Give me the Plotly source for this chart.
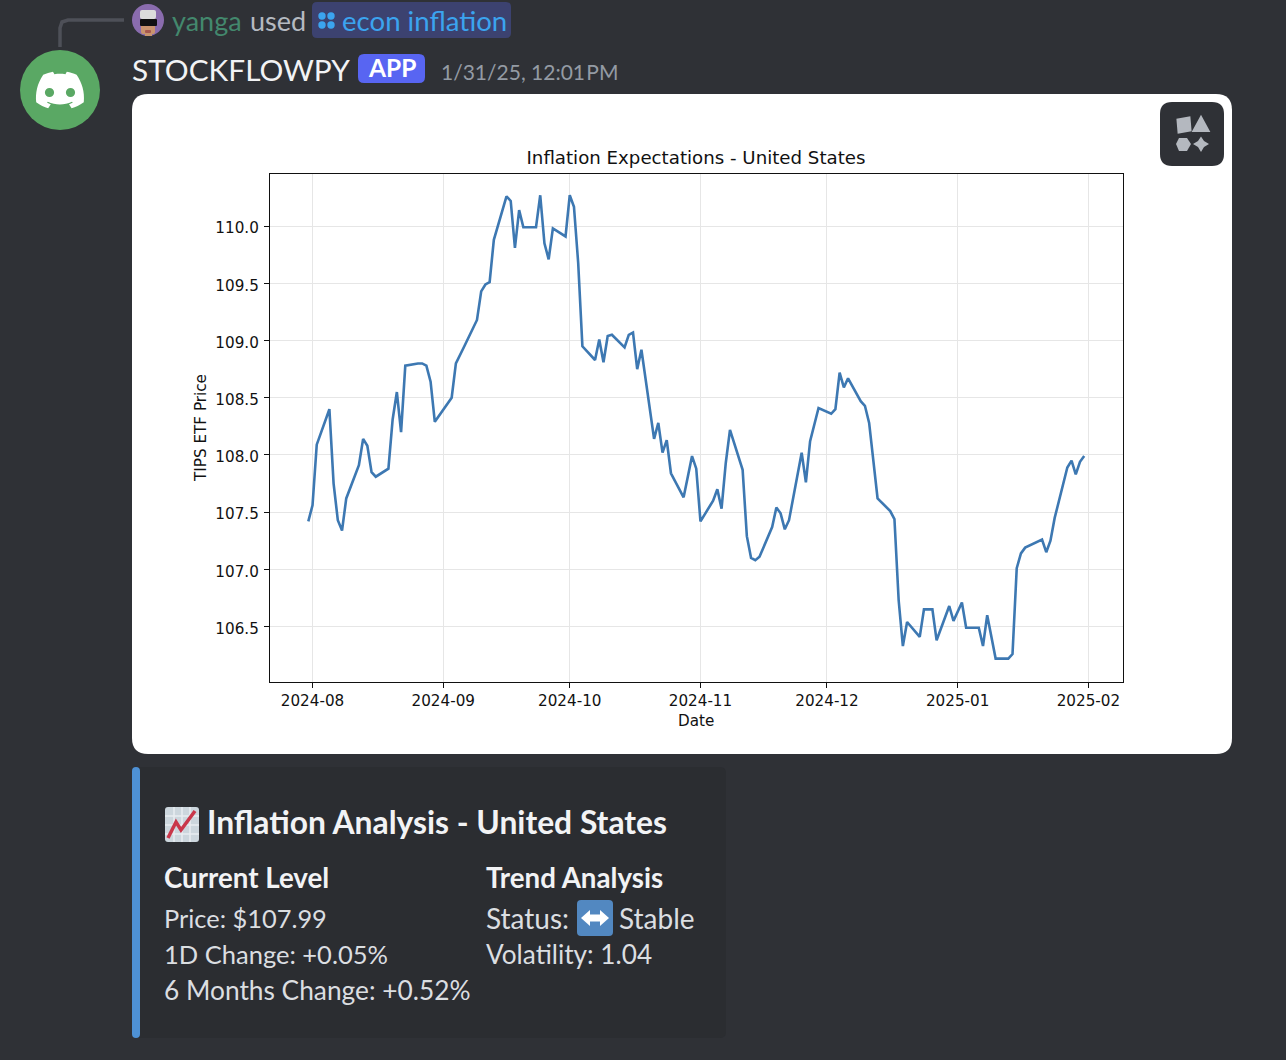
import plotly.graph_objects as go

W, H = 1286, 1060

dates = ['2024-07-31','2024-08-01','2024-08-02','2024-08-05','2024-08-06','2024-08-07','2024-08-08','2024-08-09',
 '2024-08-12','2024-08-13','2024-08-14','2024-08-15','2024-08-16','2024-08-19','2024-08-20','2024-08-21','2024-08-22','2024-08-23',
 '2024-08-26','2024-08-27','2024-08-28','2024-08-29','2024-08-30','2024-09-03','2024-09-04','2024-09-05','2024-09-06',
 '2024-09-09','2024-09-10','2024-09-11','2024-09-12','2024-09-13','2024-09-16','2024-09-17','2024-09-18','2024-09-19','2024-09-20',
 '2024-09-23','2024-09-24','2024-09-25','2024-09-26','2024-09-27','2024-09-30','2024-10-01','2024-10-02','2024-10-03','2024-10-04',
 '2024-10-07','2024-10-08','2024-10-09','2024-10-10','2024-10-11','2024-10-14','2024-10-15','2024-10-16','2024-10-17','2024-10-18',
 '2024-10-21','2024-10-22','2024-10-23','2024-10-24','2024-10-25','2024-10-28','2024-10-29','2024-10-30','2024-10-31','2024-11-01',
 '2024-11-04','2024-11-05','2024-11-06','2024-11-07','2024-11-08','2024-11-11','2024-11-12','2024-11-13','2024-11-14','2024-11-15',
 '2024-11-18','2024-11-19','2024-11-20','2024-11-21','2024-11-22','2024-11-25','2024-11-26','2024-11-27','2024-11-29',
 '2024-12-02','2024-12-03','2024-12-04','2024-12-05','2024-12-06','2024-12-09','2024-12-10','2024-12-11','2024-12-12','2024-12-13',
 '2024-12-16','2024-12-17','2024-12-18','2024-12-19','2024-12-20','2024-12-23','2024-12-24','2024-12-26','2024-12-27',
 '2024-12-30','2024-12-31','2025-01-02','2025-01-03','2025-01-06','2025-01-07','2025-01-08','2025-01-10',
 '2025-01-13','2025-01-14','2025-01-15','2025-01-16','2025-01-17','2025-01-21','2025-01-22','2025-01-23','2025-01-24',
 '2025-01-27','2025-01-28','2025-01-29','2025-01-30','2025-01-31']

prices = [107.42,107.56,108.09,108.40,107.75,107.43,107.34,107.62,
 107.91,108.14,108.08,107.85,107.81,107.88,108.31,108.55,108.20,108.78,
 108.80,108.80,108.78,108.64,108.29,108.50,108.80,108.88,108.95,
 109.18,109.43,109.49,109.51,109.88,110.26,110.22,109.81,110.14,109.99,
 109.99,110.27,109.85,109.71,109.98,109.91,110.27,110.17,109.68,108.95,
 108.83,109.01,108.81,109.04,109.05,108.94,109.05,109.07,108.75,108.92,
 108.14,108.28,108.02,108.13,107.84,107.63,107.81,107.99,107.88,107.42,
 107.60,107.70,107.53,107.93,108.22,107.87,107.29,107.10,107.08,107.11,
 107.37,107.54,107.49,107.35,107.43,108.02,107.76,108.12,108.41,
 108.36,108.40,108.72,108.59,108.67,108.47,108.43,108.28,107.93,107.62,
 107.51,107.44,106.73,106.33,106.54,106.41,106.65,106.65,106.38,
 106.68,106.55,106.71,106.49,106.49,106.33,106.60,106.22,
 106.22,106.26,107.01,107.14,107.19,107.26,107.15,107.25,107.45,
 107.89,107.95,107.83,107.94,107.99]

y_ticks = [106.5,107.0,107.5,108.0,108.5,109.0,109.5,110.0]
x_ticks = ['2024-08-01','2024-09-01','2024-10-01','2024-11-01','2024-12-01','2025-01-01','2025-02-01']

DARK = '#2f3136'
EMBED = '#2b2d31'
BLUE = '#4e91d5'
UI = 'Lato'


def px(x):
    return x / W


def py(y):
    return 1 - y / H


def rrect(x0, y0, x1, y1, r):
    # rounded box given in screen pixels
    a, b, c, d = px(x0), py(y0), px(x1), py(y1)
    rx, ry = r / W, r / H
    return (f'M {a+rx} {b} L {c-rx} {b} Q {c} {b} {c} {b-ry} L {c} {d+ry} Q {c} {d} {c-rx} {d} '
            f'L {a+rx} {d} Q {a} {d} {a} {d+ry} L {a} {b-ry} Q {a} {b} {a+rx} {b} Z')


def box(x0, y0, x1, y1, r, color):
    return dict(type='path', xref='paper', yref='paper', path=rrect(x0, y0, x1, y1, r),
                fillcolor=color, line_width=0, layer='below')


def poly(points, color, line=0, fill=True):
    p = 'M ' + ' L '.join(f'{px(x)} {py(y)}' for x, y in points)
    if fill:
        p += ' Z'
    return dict(type='path', xref='paper', yref='paper', path=p, fillcolor=color if fill else 'rgba(0,0,0,0)',
                line=dict(color=color, width=line), layer='below')


def circle(cx, cy, r, color):
    return dict(type='circle', xref='paper', yref='paper', x0=px(cx-r), x1=px(cx+r), y0=py(cy+r), y1=py(cy-r),
                fillcolor=color, line_width=0, layer='below')


def logo(cx, cy, s):
    # clyde, traced on a 24 unit box
    cmds = [('M',20.3,4.4),('C',18.8,3.7,17.1,3.2,15.4,2.9),('L',14.7,4.1),('C',12.9,3.8,11.1,3.8,9.2,4.1),('L',8.5,2.9),
            ('C',6.8,3.2,5.2,3.7,3.6,4.4),('C',0.5,9,-0.3,13.6,0.1,18.1),('C',2.1,19.6,4.1,20.5,6.1,21.1),('L',7.4,19.1),
            ('C',6.7,18.9,6.1,18.6,5.5,18.2),('L',5.9,17.9),('C',9.8,19.7,14.1,19.7,18,17.9),('L',18.4,18.2),
            ('C',17.8,18.6,17.2,18.9,16.5,19.1),('L',17.8,21.1),('C',19.8,20.5,21.8,19.6,23.9,18.1),('C',24.4,12.9,23,8.4,20.3,4.4)]
    out = []
    for c in cmds:
        nums = c[1:]
        xy = []
        for i in range(0, len(nums), 2):
            xy.append(f'{px(cx+(nums[i]-12)*s)} {py(cy+(nums[i+1]-12)*s)}')
        out.append(c[0] + ' ' + ' '.join(xy))
    return dict(type='path', xref='paper', yref='paper', path=' '.join(out)+' Z', fillcolor='white', line_width=0, layer='below')


def note(x, y, text, size, color, bold=False, anchor='left'):
    return dict(xref='paper', yref='paper', x=px(x), y=py(y), text=text, showarrow=False, xanchor=anchor, yanchor='middle',
                font=dict(family=UI, size=size, color=color, weight=700 if bold else 400), borderpad=0, borderwidth=0)


shapes = [
    box(132, 94, 1232, 754, 16, 'white'),
    box(1160, 102, 1224, 166, 12, '#2f3136'),
    # the media badge, four little blobs
    poly([(1178,120),(1189,118),(1190,130),(1179,132)], '#b4b8bf', line=3),
    poly([(1201,119),(1207,130),(1195,130)], '#b4b8bf', line=4),
    poly([(1179,138),(1187,138),(1191,144),(1187,151),(1179,151),(1176,144)], '#b4b8bf'),
    poly([(1201,136.5),(1204,141),(1209,144),(1204,147),(1201,152),(1198,147),(1193,144),(1198,141)], '#b4b8bf'),
    # reply connector
    poly([(60,47),(60,28),(62,22),(68,20),(124,20)], '#4e5058', line=3.5, fill=False),
    # avatars
    circle(60, 90, 40, '#5aa864'),
    logo(60, 90, 2.0),
    circle(49.5, 92.5, 4.6, '#5aa864'),
    circle(70.5, 92.5, 4.6, '#5aa864'),
    circle(148, 20, 16, '#8a6cae'),
    box(141, 19, 155, 34, 2, '#c9946e'),
    box(145, 30, 152, 36, 0, '#c9946e'),
    box(140, 10, 156, 19, 2, '#dcdcdc'),
    box(140, 19, 157, 26, 1, '#111111'),
    box(145, 30, 151, 33, 1, '#a8584f'),
    # command pill and its icon
    box(312, 2, 511, 38, 5, '#3c4270'),
    circle(322, 16, 3.7, '#3ba4ef'),
    circle(331, 16, 3.7, '#3ba4ef'),
    circle(322, 25, 3.7, '#3ba4ef'),
    circle(331, 25, 3.7, '#3ba4ef'),
    # app badge
    box(358, 54, 425, 83, 6, '#5865f2'),
    # embed
    box(132, 767, 726, 1038, 6, EMBED),
    box(132, 767, 140, 1038, 4, BLUE),
    # chart emoji
    box(165, 807, 199, 842, 3, '#ccd6dd'),
    poly([(174,807),(174,842)], '#e8edf0', line=1.5, fill=False),
    poly([(182,807),(182,842)], '#e8edf0', line=1.5, fill=False),
    poly([(190,807),(190,842)], '#e8edf0', line=1.5, fill=False),
    poly([(165,816),(199,816)], '#e8edf0', line=1.5, fill=False),
    poly([(165,825),(199,825)], '#e8edf0', line=1.5, fill=False),
    poly([(165,834),(199,834)], '#e8edf0', line=1.5, fill=False),
    poly([(168,838),(176,822),(181,830),(195,811)], '#c9374a', line=3.5, fill=False),
    # left-right arrow emoji
    box(577, 900, 613, 936, 4, '#5288c1'),
    poly([(581,918),(590,910),(590,914.5),(600,914.5),(600,910),(609,918),(600,926),(600,921.5),(590,921.5),(590,926)], 'white'),
]

annotations = [
    note(172, 20.5, 'yanga', 27, '#43886d'),
    note(250, 20.5, 'used', 27, '#b5bac1'),
    note(342, 20.5, 'econ inflation', 27.6, '#3ba4ef'),
    note(132, 69, 'STOCKFLOWPY', 29.8, '#f2f3f5'),
    note(391.5, 68, 'APP', 24.5, 'white', bold=True, anchor='center'),
    note(441, 71, '1/31/25, 12:01\u200aPM', 21, '#949ba4'),
    note(207, 821.5, 'Inflation Analysis - United States', 31.8, '#f2f3f5', bold=True),
    note(164, 877.5, 'Current Level', 27.7, '#f2f3f5', bold=True),
    note(486, 877.5, 'Trend Analysis', 27.7, '#f2f3f5', bold=True),
    note(164, 918, 'Price: $107.99', 25.4, '#dbdee1'),
    note(164, 954, '1D Change: +0.05%', 25.5, '#dbdee1'),
    note(164, 990, '6 Months Change: +0.52%', 26.3, '#dbdee1'),
    note(486, 918, 'Status:', 28, '#dbdee1'),
    note(619, 918, 'Stable', 28, '#dbdee1'),
    note(486, 954, 'Volatility: 1.04', 26.2, '#dbdee1'),
]

fig = go.Figure()
fig.add_trace(go.Scatter(x=dates, y=prices, mode='lines', line=dict(color='#3d78b2', width=2.6)))

fig.update_layout(
    template='none',
    width=W, height=H,
    margin=dict(l=0, r=0, t=0, b=0),
    paper_bgcolor=DARK,
    plot_bgcolor='white',
    showlegend=False,
    font=dict(family='DejaVu Sans', size=15.2, color='#111111'),
    title=dict(text='Inflation Expectations - United States', x=696/W, xanchor='center', xref='paper',
               y=py(158), yanchor='middle', yref='paper', font=dict(family='DejaVu Sans', size=18.2, color='#111111')),
    shapes=shapes,
    annotations=annotations,
)
fig.update_xaxes(
    domain=[px(270), px(1122.5)], range=['2024-07-21 22:00', '2025-02-09 02:00'],
    tickvals=x_ticks, tickformat='%Y-%m', ticks='outside', ticklen=5, tickcolor='#111111',
    showgrid=True, gridcolor='#e6e6e6', gridwidth=1.4, zeroline=False,
    showline=True, linecolor='#111111', linewidth=1.3, mirror=True, automargin=False,
    title=dict(text='Date', standoff=6, font=dict(size=15.2)),
)
fig.update_yaxes(
    domain=[py(681.5), py(173.5)], range=[106.02, 110.46],
    tickvals=y_ticks, tickformat='.1f', ticks='outside', ticklen=5, tickcolor='#111111',
    ticklabelstandoff=2, ticklabelshift=2,
    showgrid=True, gridcolor='#e6e6e6', gridwidth=1.4, zeroline=False,
    showline=True, linecolor='#111111', linewidth=1.3, mirror=True, automargin=False,
    title=dict(text='TIPS ETF Price', standoff=5, font=dict(size=15.2)),
)

fig.write_html('out.html', config=dict(displayModeBar=False),
               post_script="document.body.style.margin='0';document.body.style.overflow='hidden';")
